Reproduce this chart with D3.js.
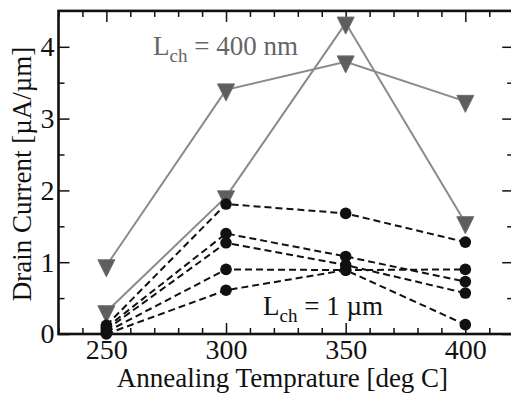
<!DOCTYPE html>
<html>
<head>
<meta charset="utf-8">
<script src="https://cdn.jsdelivr.net/npm/d3@7"></script>
<style>
  html, body { margin: 0; padding: 0; background: #fff; }
  svg { display: block; }
</style>
</head>
<body>
<div id="chart"></div>
<script>
// annealing temperatures (deg C)
const temps = [250, 300, 350, 400];

// L = 400 nm devices (gray triangles)
const long400a = [0.95, 3.40, 3.79, 3.24];
const long400b = [0.31, 1.91, 4.33, 1.55];

// L = 1 um devices (black dots, dashed)
const short1 = [0.12, 1.81, 1.68, 1.28];
const short2 = [0.09, 1.40, 1.08, 0.73];
const short3 = [0.06, 1.27, 0.96, 0.57];
const short4 = [0.03, 0.90, 0.89, 0.90];
const short5 = [0.00, 0.61, 0.89, 0.13];

const xTicks = [250, 300, 350, 400];
const yTicks = [0, 1, 2, 3, 4];

const serif = "'Liberation Serif', 'Times New Roman', Times, serif";
const width = 511, height = 393;

const svg = d3.select("#chart").append("svg")
  .attr("width", width)
  .attr("height", height);

const x = d3.scaleLinear().domain([230, 420]).range([58.5, 513.2]);
const y = d3.scaleLinear().domain([0, 4.5]).range([334, 10.9]);

const xMinor = d3.range(230, 421, 10).filter(v => v % 50 !== 0);
const yMinor = d3.range(0.5, 4.5, 1);

// draws one set of inward ticks; labels only when fmt is given
function ticks(axisFn, scale, vals, transform, size, fmt, pad) {
  const g = svg.append("g")
    .attr("transform", transform)
    .call(axisFn(scale).tickValues(vals).tickSize(-size).tickSizeOuter(0)
      .tickPadding(pad || 4).tickFormat(fmt || ""));
  g.select(".domain").remove();
  g.selectAll("line").attr("stroke", "#111").attr("stroke-width", 1.5);
  g.selectAll("text")
    .attr("fill", "#111")
    .style("font-family", serif)
    .style("font-size", "28px");
  return g;
}

ticks(d3.axisBottom, x, xMinor, "translate(0," + y(0) + ")", 6);
ticks(d3.axisTop, x, xMinor, "translate(0," + y(4.5) + ")", 6);
ticks(d3.axisLeft, y, yMinor, "translate(" + x(230) + ",0)", 6);
ticks(d3.axisRight, y, yMinor, "translate(" + x(420) + ",0)", 6);

ticks(d3.axisBottom, x, xTicks, "translate(0," + y(0) + ")", 11, d3.format("d"), 5);
ticks(d3.axisTop, x, xTicks, "translate(0," + y(4.5) + ")", 11);
ticks(d3.axisLeft, y, yTicks, "translate(" + x(230) + ",0)", 11, d3.format("d"), 4);
ticks(d3.axisRight, y, yTicks, "translate(" + x(420) + ",0)", 11);

// frame
svg.append("rect")
  .attr("x", x(230)).attr("y", y(4.5))
  .attr("width", x(420) - x(230)).attr("height", y(0) - y(4.5))
  .attr("fill", "none").attr("stroke", "#111").attr("stroke-width", 2.6);

const line = d3.line().x((d, i) => x(temps[i])).y(d => y(d));

// gray triangle series
const triPath = "M-8.5,-6L8.5,-6L0,11Z";
[long400a, long400b].forEach(vals => {
  svg.append("path").datum(vals)
    .attr("d", line).attr("fill", "none")
    .attr("stroke", "#8a8a8a").attr("stroke-width", 2);
  svg.selectAll(null).data(vals).enter().append("path")
    .attr("d", triPath)
    .attr("transform", (d, i) => "translate(" + x(temps[i]) + "," + y(d) + ")")
    .attr("fill", "#5e5e5e").attr("stroke", "#6e6e6e").attr("stroke-width", 1);
});

// black dashed series
[short1, short2, short3, short4, short5].forEach(vals => {
  svg.append("path").datum(vals)
    .attr("d", line).attr("fill", "none")
    .attr("stroke", "#111").attr("stroke-width", 2)
    .attr("stroke-dasharray", "7,4");
  svg.selectAll(null).data(vals).enter().append("circle")
    .attr("cx", (d, i) => x(temps[i])).attr("cy", d => y(d))
    .attr("r", 5.8).attr("fill", "#111");
});

// annotations
function lchLabel(tx, ty, rest, color) {
  const t = svg.append("text")
    .attr("x", tx).attr("y", ty)
    .attr("fill", color)
    .style("font-family", serif)
    .style("font-size", "27px");
  t.append("tspan").text("L");
  t.append("tspan").attr("dy", 7).style("font-size", "19px").text("ch");
  t.append("tspan").attr("dy", -7).text(" = " + rest);
}
lchLabel(153, 55, "400 nm", "#666");
lchLabel(263, 315, "1 \u00b5m", "#111");

// axis titles
svg.append("text")
  .attr("x", 282.5).attr("y", 386.5)
  .attr("text-anchor", "middle")
  .attr("fill", "#111")
  .style("font-family", serif)
  .style("font-size", "27px")
  .text("Annealing Temprature [deg C]");

svg.append("text")
  .attr("transform", "translate(31,174) rotate(-90)")
  .attr("text-anchor", "middle")
  .attr("fill", "#111")
  .style("font-family", serif)
  .style("font-size", "27px")
  .text("Drain Current [\u00b5A/\u00b5m]");
</script>
</body>
</html>
